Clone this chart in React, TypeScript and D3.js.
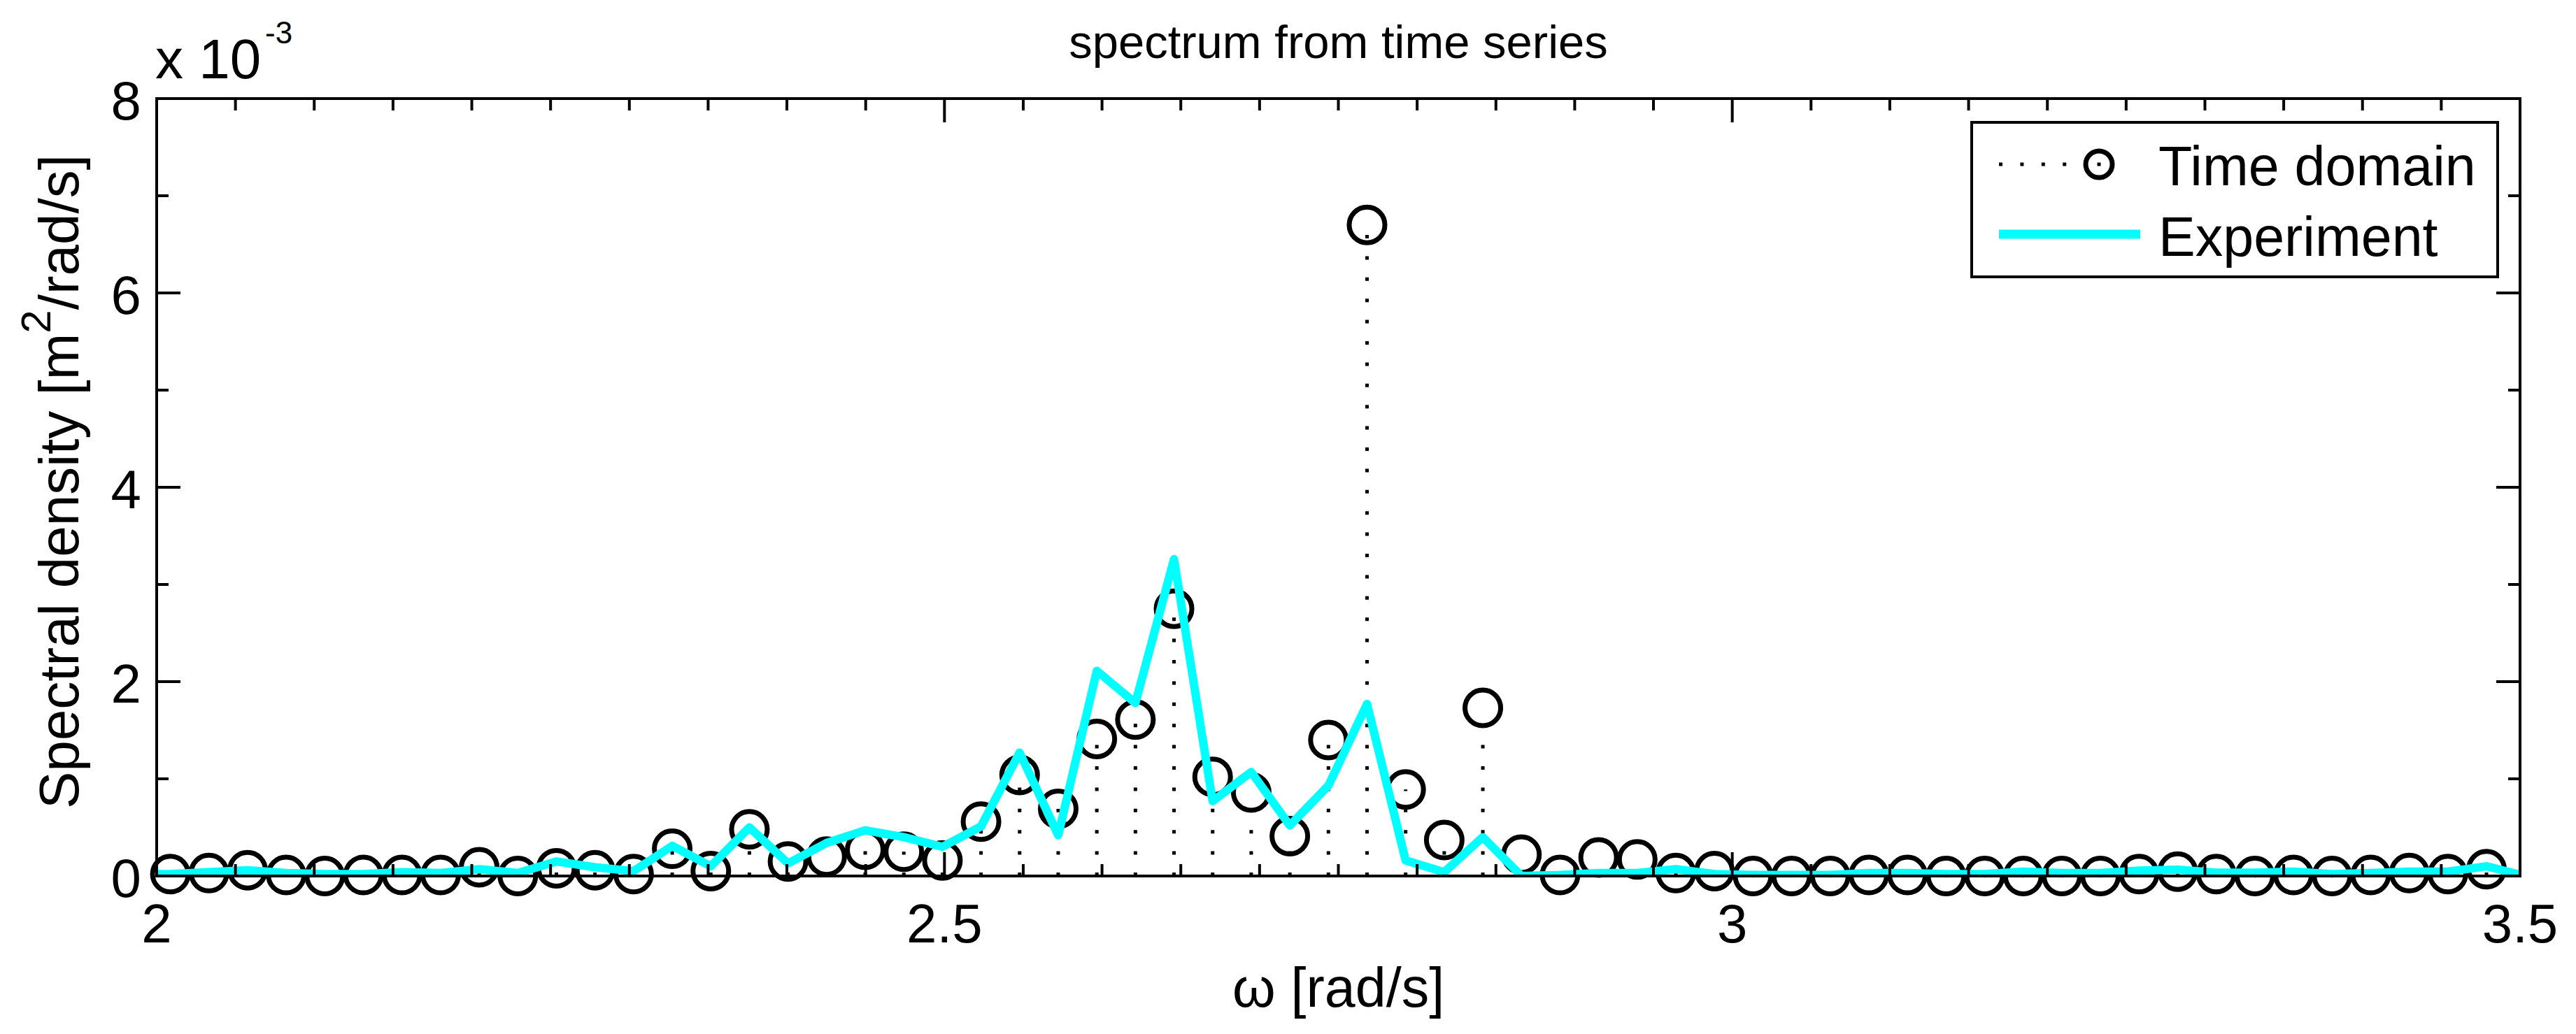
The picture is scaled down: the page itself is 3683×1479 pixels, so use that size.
import { useEffect } from "react";
import * as d3 from "d3";

// frequency grid shared by both series [rad/s]
const omega = [
  1.9842, 2.0087, 2.0332, 2.0577, 2.0822, 2.1067, 2.1312, 2.1557, 2.1802, 2.2047,
  2.2292, 2.2537, 2.2782, 2.3027, 2.3272, 2.3517, 2.3762, 2.4007, 2.4252, 2.4497,
  2.4742, 2.4987, 2.5232, 2.5477, 2.5722, 2.5967, 2.6212, 2.6457, 2.6702, 2.6947,
  2.7192, 2.7437, 2.7682, 2.7927, 2.8172, 2.8417, 2.8662, 2.8907, 2.9152, 2.9397,
  2.9642, 2.9887, 3.0132, 3.0377, 3.0622, 3.0867, 3.1112, 3.1357, 3.1602, 3.1847,
  3.2092, 3.2337, 3.2582, 3.2827, 3.3072, 3.3317, 3.3562, 3.3807, 3.4052, 3.4297,
  3.4542, 3.4787, 3.5032,
];

// spectral density, x 1e-3 m^2/(rad/s)
const timeDomain = [
  null, 0.02, 0.03, 0.06, 0.01, 0.0, 0.01, 0.01, 0.01, 0.09,
  0.0, 0.08, 0.06, 0.02, 0.28, 0.05, 0.48, 0.15, 0.2, 0.27,
  0.25, 0.16, 0.56, 1.04, 0.69, 1.41, 1.61, 2.75, 1.02, 0.86,
  0.41, 1.4, 6.7, 0.89, 0.37, 1.73, 0.22, 0.01, 0.19, 0.17,
  0.03, 0.05, 0.0, 0.0, 0.0, 0.01, 0.01, 0.0, 0.0, 0.0,
  0.0, 0.0, 0.02, 0.045, 0.02, 0.0, 0.01, 0.0, 0.01, 0.03,
  0.02, 0.07, null,
];

const experiment = [
  0.02, 0.02, 0.04, 0.06, 0.03, 0.02, 0.02, 0.04, 0.03, 0.07,
  0.03, 0.15, 0.09, 0.05, 0.31, 0.1, 0.5, 0.13, 0.34, 0.47,
  0.4, 0.3, 0.51, 1.27, 0.42, 2.11, 1.78, 3.26, 0.77, 1.07,
  0.52, 0.93, 1.77, 0.16, 0.04, 0.4, 0.0, 0.01, 0.03, 0.03,
  0.07, 0.02, 0.01, 0.01, 0.01, 0.03, 0.03, 0.02, 0.02, 0.045,
  0.03, 0.03, 0.055, 0.065, 0.035, 0.035, 0.045, 0.02, 0.03, 0.045,
  0.045, 0.1, 0.0,
];

const xTickLabels = [2, 2.5, 3, 3.5];
const yTickLabels = [0, 2, 4, 6, 8];
const legendLabels = ["Time domain", "Experiment"];

const W = 3683;
const H = 1479;
const FONT = "'Liberation Sans', Arial, Helvetica, sans-serif";
const CYAN = "#00ffff";

export default function App() {
  useEffect(() => {
    document.body.style.margin = "0";
    document.body.style.overflow = "hidden";
  }, []);

  const x = d3.scaleLinear().domain([2, 3.5]).range([224, 3603]);
  const y = d3.scaleLinear().domain([0, 8]).range([1253, 141]);
  const [x0, x1] = x.range();
  const [yb, yt] = y.range();

  const majorLen = 34;
  const minorLen = 17;

  const xTicks = x.ticks(30);
  const yTicks = y.ticks(8);
  const isXMajor = (v: number) => xTickLabels.some((t) => Math.abs(t - v) < 1e-6);
  const isYMajor = (v: number) => yTickLabels.some((t) => Math.abs(t - v) < 1e-6);

  const pts = omega
    .map((w, i) => ({ w, v: timeDomain[i] }))
    .filter((d) => d.v !== null && d.w >= 2 && d.w <= 3.5) as { w: number; v: number }[];

  const expLine = d3
    .line<number>()
    .x((_, i) => x(omega[i]))
    .y((d) => y(d))(experiment);

  return (
    <svg
      width={W}
      height={H}
      style={{ position: "absolute", left: 0, top: 0, background: "#fff" }}
      fontFamily={FONT}
    >
      <defs>
        <clipPath id="plotClip">
          <rect x={x0} y={yt} width={x1 - x0} height={yb - yt} />
        </clipPath>
      </defs>
      <rect width={W} height={H} fill="#fff" />

      {/* title */}
      <text x={(x0 + x1) / 2} y={83} textAnchor="middle" fontSize={67}>
        spectrum from time series
      </text>

      {/* exponent label */}
      <text x={222} y={112} fontSize={80}>
        x 10
      </text>
      <text x={379} y={62} fontSize={44}>
        -3
      </text>

      {/* stems */}
      {pts.map((d, i) => (
        <line
          key={"s" + i}
          x1={x(d.w)}
          x2={x(d.w)}
          y1={y(0)}
          y2={y(d.v)}
          stroke="#000"
          strokeWidth={5}
          strokeDasharray="5 25.4"
        />
      ))}

      {/* markers */}
      {pts.map((d, i) => (
        <circle
          key={"c" + i}
          cx={x(d.w)}
          cy={y(d.v)}
          r={25.5}
          fill="none"
          stroke="#000"
          strokeWidth={7}
        />
      ))}

      {/* experiment */}
      <path
        d={expLine || ""}
        fill="none"
        stroke={CYAN}
        strokeWidth={12}
        strokeLinejoin="round"
        clipPath="url(#plotClip)"
      />

      {/* axes box */}
      <rect x={x0} y={yt} width={x1 - x0} height={yb - yt} fill="none" stroke="#000" strokeWidth={4} />

      {/* x ticks */}
      {xTicks.map((v, i) => {
        const len = isXMajor(v) ? majorLen : minorLen;
        return (
          <g key={"xt" + i}>
            <line x1={x(v)} x2={x(v)} y1={yb} y2={yb - len} stroke="#000" strokeWidth={4} />
            <line x1={x(v)} x2={x(v)} y1={yt} y2={yt + len} stroke="#000" strokeWidth={4} />
          </g>
        );
      })}
      {xTickLabels.map((v) => (
        <text key={"xl" + v} x={x(v)} y={1348} textAnchor="middle" fontSize={78}>
          {v}
        </text>
      ))}

      {/* y ticks */}
      {yTicks.map((v, i) => {
        const len = isYMajor(v) ? majorLen : minorLen;
        return (
          <g key={"yt" + i}>
            <line x1={x0} x2={x0 + len} y1={y(v)} y2={y(v)} stroke="#000" strokeWidth={4} />
            <line x1={x1} x2={x1 - len} y1={y(v)} y2={y(v)} stroke="#000" strokeWidth={4} />
          </g>
        );
      })}
      {yTickLabels.map((v) => (
        <text key={"yl" + v} x={202} y={y(v) + 30} textAnchor="end" fontSize={78}>
          {v}
        </text>
      ))}

      {/* axis labels */}
      <text x={(x0 + x1) / 2} y={1440} textAnchor="middle" fontSize={79}>
        ω [rad/s]
      </text>
      <text transform={`translate(112, ${(yb + yt) / 2 - 8}) rotate(-90)`} textAnchor="middle" fontSize={80}>
        Spectral density [m
        <tspan dy={-40} fontSize={60}>2</tspan>
        <tspan dy={40}>/rad/s]</tspan>
      </text>

      {/* legend */}
      <g>
        <rect x={2819} y={175} width={752} height={221} fill="#fff" stroke="#000" strokeWidth={4} />
        <line x1={2858} x2={2960} y1={235} y2={235} stroke="#000" strokeWidth={5} strokeDasharray="5 25.4" />
        <circle cx={3001} cy={235} r={19} fill="none" stroke="#000" strokeWidth={7} />
        <rect x={2998.5} y={232.5} width={5} height={5} fill="#000" />
        <text x={3086} y={265} fontSize={79}>
          {legendLabels[0]}
        </text>
        <line x1={2858} x2={3060} y1={335} y2={335} stroke={CYAN} strokeWidth={13} />
        <text x={3086} y={366} fontSize={79}>
          {legendLabels[1]}
        </text>
      </g>
    </svg>
  );
}
